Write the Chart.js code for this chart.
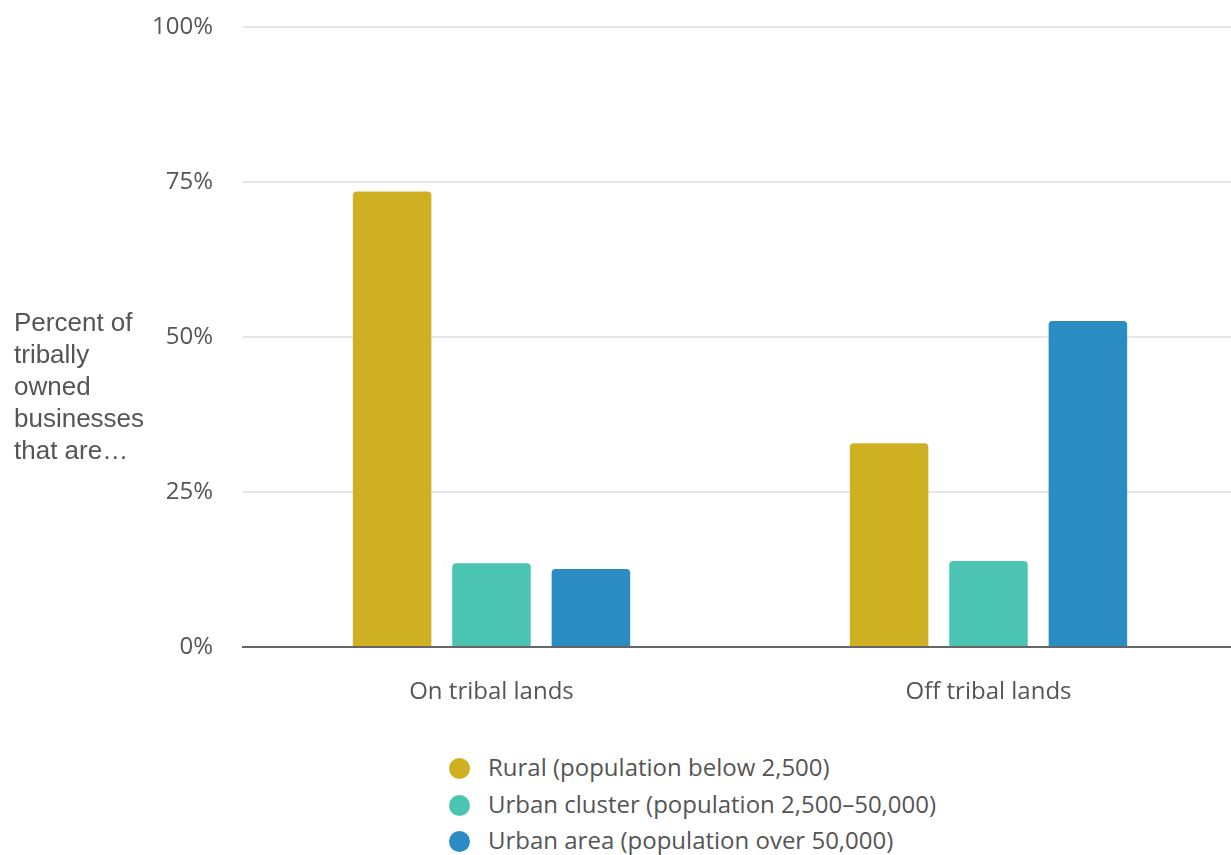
<!DOCTYPE html>
<html lang="en">
<head>
    <meta charset="UTF-8">
    <title>Tribally owned businesses</title>
    <script src="https://cdn.jsdelivr.net/npm/chart.js"></script>
    <style>
        body {
            margin: 0;
            padding: 0;
            background: #ffffff;
            width: 1231px;
            height: 855px;
            overflow: hidden;
            position: relative;
        }

        #chartBox {
            position: absolute;
            left: 0;
            top: -17px;
            width: 1237px;
            height: 727px;
        }

        .axis-title {
            position: absolute;
            left: 14px;
            top: 306px;
            font-family: 'Liberation Sans', Arial, sans-serif;
            font-size: 26px;
            line-height: 32px;
            color: #555555;
        }

        #legend {
            position: absolute;
            left: 449px;
            top: 749px;
            font-family: 'Open Sans', sans-serif;
            font-size: 24px;
            color: #555555;
        }

        #legend .item {
            height: 36.5px;
            line-height: 36.5px;
            white-space: nowrap;
        }

        #legend .dot {
            display: inline-block;
            width: 21px;
            height: 21px;
            border-radius: 50%;
            margin-right: 18px;
            vertical-align: -3px;
        }
    </style>
</head>
<body>

    <div id="chartBox"><canvas id="bars"></canvas></div>
    <div class="axis-title">Percent of<br>tribally<br>owned<br>businesses<br>that are…</div>
    <div id="legend"></div>

    <script>
        // data (percent)
        const categories = ['On tribal lands', 'Off tribal lands'];
        const rural = [73.5, 32.9];
        const urbanCluster = [13.5, 13.9];
        const urbanArea = [12.6, 52.6];
        const yTicks = [0, 25, 50, 75, 100];

        const seriesNames = [
            'Rural (population below 2,500)',
            'Urban cluster (population 2,500–50,000)',
            'Urban area (population over 50,000)'
        ];
        const seriesColors = ['#CFB023', '#4BC5B1', '#2A8CC2'];
        const seriesData = [rural, urbanCluster, urbanArea];

        const datasets = seriesData.map(function(vals, i) {
            return {
                label: seriesNames[i],
                data: vals,
                backgroundColor: seriesColors[i],
                borderRadius: 4,
                borderSkipped: 'bottom',
                barPercentage: 0.79,
                categoryPercentage: 0.6
            };
        });

        const ctx = document.getElementById('bars').getContext('2d');
        new Chart(ctx, {
            type: 'bar',
            data: { labels: categories, datasets: datasets },
            options: {
                responsive: true,
                maintainAspectRatio: false,
                animation: false,
                layout: { padding: { top: 10, right: 0, left: 0, bottom: 0 } },
                plugins: {
                    legend: { display: false },
                    tooltip: { enabled: false }
                },
                scales: {
                    x: {
                        grid: { display: false },
                        border: { color: '#666666', width: 2 },
                        ticks: {
                            color: '#555555',
                            padding: 23,
                            font: { family: 'Open Sans', size: 24 }
                        },
                        afterFit: function(scale) { scale.height = 63; }
                    },
                    y: {
                        min: 0,
                        max: 100,
                        afterBuildTicks: function(scale) {
                            scale.ticks = yTicks.map(function(v) { return { value: v }; });
                        },
                        grid: { color: '#e6e6e6', lineWidth: 2, drawTicks: false },
                        border: { display: false },
                        ticks: {
                            color: '#555555',
                            padding: 30,
                            font: { family: 'Open Sans', size: 24 },
                            callback: function(v) { return v + '%'; }
                        },
                        afterFit: function(scale) { scale.width = 243; }
                    }
                }
            }
        });

        // legend, one series per line
        const legend = document.getElementById('legend');
        seriesNames.forEach(function(name, i) {
            const row = document.createElement('div');
            row.className = 'item';
            const dot = document.createElement('span');
            dot.className = 'dot';
            dot.style.background = seriesColors[i];
            row.appendChild(dot);
            row.appendChild(document.createTextNode(name));
            legend.appendChild(row);
        });
    </script>

</body>
</html>
